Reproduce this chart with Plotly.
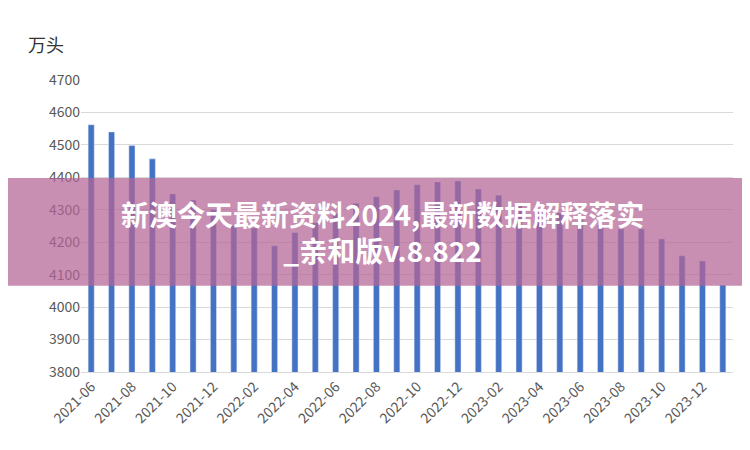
import plotly.graph_objects as go

months = ["2021-06","2021-07","2021-08","2021-09","2021-10","2021-11","2021-12",
          "2022-01","2022-02","2022-03","2022-04","2022-05","2022-06","2022-07","2022-08","2022-09","2022-10","2022-11","2022-12",
          "2023-01","2023-02","2023-03","2023-04","2023-05","2023-06","2023-07","2023-08","2023-09","2023-10","2023-11","2023-12","2024-01"]
values = [4562,4540,4498,4457,4349,4330,4300,4253,4244,4189,4230,4260,4290,4320,4340,4361,4377,4386,4389,
          4364,4345,4320,4300,4290,4270,4253,4241,4241,4210,4158,4142,4068]
tick_labels = months[::2]
series_name = "官方能繁母猪存栏"
banner_text = "<b>新澳今天最新资料2024,最新数据解释落实<br>_亲和版v.8.822</b>"

font = "Noto Sans CJK SC"
fig = go.Figure(go.Bar(x=months, y=values, name=series_name, marker_color="#4472C4", showlegend=False))
fig.update_layout(
    width=750, height=450, plot_bgcolor="white", paper_bgcolor="white",
    margin=dict(l=73, r=25, t=72, b=86, autoexpand=False),
    font=dict(family=font, color="#595959", size=14),
    bargap=0.7,
    showlegend=False,
    xaxis=dict(type="category", tickvals=tick_labels, ticktext=tick_labels, tickangle=-45, automargin=False,
               showgrid=False, showline=True, linecolor="#d9d9d9", ticks="", tickfont=dict(size=14)),
    yaxis=dict(range=[3800, 4700], dtick=100, gridcolor="#d9d9d9", showline=False, zeroline=False,
               automargin=False, tickfont=dict(size=14)),
    shapes=[
        dict(type="rect", xref="paper", yref="paper", x0=0.330, x1=0.345, y0=1.306, y1=1.34,
             fillcolor="#4472C4", line=dict(width=0)),
        dict(type="rect", xref="paper", yref="paper", x0=-0.2, x1=1.2, y0=0.295, y1=0.664,
             fillcolor="rgba(180,100,150,0.72)", line=dict(width=0), layer="above")],
    annotations=[
        dict(text=series_name, xref="paper", yref="paper", x=0.352, y=1.323, xanchor="left", yanchor="middle",
             showarrow=False, font=dict(size=16, color="#595959")),
        dict(text="万头", xref="paper", yref="paper", x=-0.085, y=1.123, xanchor="left", yanchor="middle",
             showarrow=False, font=dict(size=18, color="#333333")),
        dict(text=banner_text, xref="paper", yref="paper", x=0.463, y=0.479, showarrow=False,
             font=dict(size=28, color="white", family=font), align="center"),
    ],
)
fig.write_html("out.html")
